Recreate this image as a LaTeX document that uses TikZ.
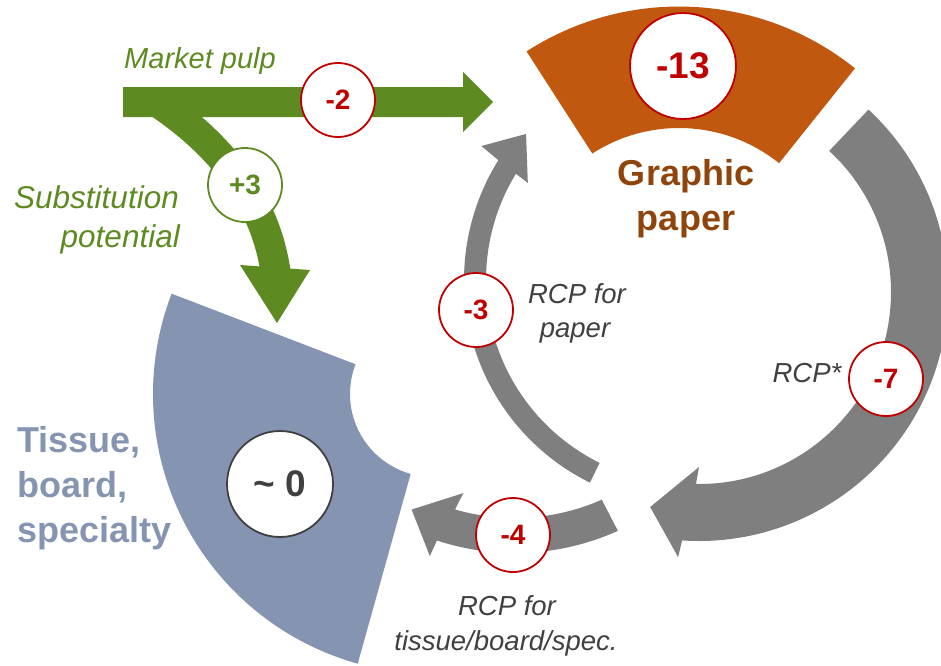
\documentclass[tikz,border=0pt]{standalone}
\usepackage{fontspec}
\setmainfont{Liberation Sans}
\usetikzlibrary{calc}
\definecolor{greenc}{HTML}{5D8B21}
\definecolor{orangec}{HTML}{C05810}
\definecolor{brownc}{HTML}{8E440A}
\definecolor{bluec}{HTML}{8594B0}
\definecolor{grayc}{HTML}{7F7F7F}
\definecolor{redc}{HTML}{C00000}
\definecolor{darkc}{HTML}{404040}
\tikzset{
  badge/.style={circle, draw=redc, line width=1.8pt, fill=white, minimum size=74pt, inner sep=0pt, text=redc, font=\bfseries\fontsize{28}{33}\selectfont},
  badgeG/.style={badge, draw=greenc, text=greenc},
  bigbadge/.style={badge, minimum size=106pt, font=\bfseries\fontsize{37}{44}\selectfont},
  zerobadge/.style={bigbadge, draw=darkc, text=darkc},
  rcplbl/.style={font=\itshape\fontsize{27.5}{33}\selectfont, text=darkc, inner sep=0pt, anchor=base},
  greenlbl/.style={font=\itshape\fontsize{29}{35}\selectfont, text=greenc, inner sep=0pt},
  sublbl/.style={font=\itshape\fontsize{31.5}{38}\selectfont, text=greenc, inner sep=0pt, anchor=base east},
  seclbl/.style={font=\bfseries\fontsize{36}{43}\selectfont, inner sep=0pt},
}
\begin{document}
\begin{tikzpicture}[x=1pt,y=1pt]
\useasboundingbox (0,0) rectangle (941,-665);
% centres of the arcs
\coordinate (cG) at (679,-288);
\coordinate (cT) at (433,-394);
\coordinate (cL) at (690,-280);
\coordinate (cR) at (699,-292);
\coordinate (cB) at (515,-303);
% graphic paper sector
\fill[orangec] ($(cG)+(51.3:281.5)$) arc[start angle=51.3, end angle=122.8, radius=281.5pt]
  -- ($(cG)+(122.8:160)$) arc[start angle=122.8, end angle=51.3, radius=160pt] -- cycle;
% tissue sector
\fill[bluec] ($(cT)+(159:280)$) arc[start angle=159, end angle=254.4, radius=280pt]
  -- ($(cT)+(254.4:83)$) arc[start angle=254.4, end angle=159, radius=83pt] -- cycle;
% gray arrow: RCP for paper
\fill[grayc] ($(cL)+(243.7:226)$) arc[start angle=243.7, end angle=148, radius=226pt]
  -- ($(cL)+(147.3:248)$) -- ($(cL)+(138.3:219.6)$) -- ($(cL)+(149.1:189)$)
  -- ($(cL)+(148.6:204)$) arc[start angle=148.6, end angle=243.7, radius=204pt] -- cycle;
% gray arrow: RCP*
\fill[grayc] ($(cR)+(47.1:249)$) arc[start angle=47.1, end angle=-93.9, radius=249pt]
  -- ($(cR)+(-94.5:266)$) -- ($(cR)+(-102.8:220.5)$) -- ($(cR)+(-90:175)$)
  -- ($(cR)+(-90.9:192)$) arc[start angle=-90.9, end angle=47.3, radius=192pt] -- cycle;
% gray arrow: RCP for tissue
\fill[grayc] ($(cB)+(-65.7:250)$) arc[start angle=-65.7, end angle=-108.2, radius=250pt]
  -- ($(cB)+(-108.6:267)$) -- ($(cB)+(-116.6:231)$) -- ($(cB)+(-105.2:197)$)
  -- ($(cB)+(-106.2:215)$) arc[start angle=-106.2, end angle=-66.2, radius=215pt] -- cycle;
% green market pulp arrow
\fill[greenc] (123,-87) -- (463,-87) -- (463,-72) -- (493,-102) -- (463,-132) -- (463,-117) -- (123,-117) -- cycle;
\begin{scope}
  \clip (0,-100) rectangle (941,-665);
  \draw[greenc, line width=30pt] (120,-80) .. controls (205,-125) and (265,-190) .. (276,-275);
\end{scope}
\fill[greenc] (240,-265) -- (310,-270) -- (277,-323) -- cycle;
% value circles
\node[badge] (n2) at (338,-100) {-2};
\node[badgeG] (n3) at (245,-185) {+3};
\node[bigbadge] (n13) at (683,-66) {-13};
\node[zerobadge] (n0) at (280,-484) {\textasciitilde{} 0};
\node[badge] (n3b) at (476,-310) {-3};
\node[badge] (n7) at (886,-379) {-7};
\node[badge] (n4) at (513,-535) {-4};
% labels
\node[greenlbl, anchor=base] (mp) at (200,-68) {Market pulp};
\node[sublbl] (sub1) at (179,-208) {Substitution};
\node[sublbl] (sub2) at (180,-247) {potential};
\node[seclbl, text=brownc, anchor=base] (gp1) at (686,-185) {Graphic};
\node[seclbl, text=brownc, anchor=base] (gp2) at (686,-230) {paper};
\node[seclbl, text=bluec, anchor=base west] (ts1) at (17,-452) {Tissue,};
\node[seclbl, text=bluec, anchor=base west] (ts2) at (17,-497) {board,};
\node[seclbl, text=bluec, anchor=base west] (ts3) at (17,-542) {specialty};
\node[rcplbl] (rp1) at (577,-303) {RCP for};
\node[rcplbl] (rp2) at (575,-337) {paper};
\node[rcplbl] (rs) at (807,-382) {RCP*};
\node[rcplbl] (rt1) at (507,-615) {RCP for};
\node[rcplbl] (rt2) at (506,-650) {tissue/board/spec.};
\end{tikzpicture}
\end{document}
